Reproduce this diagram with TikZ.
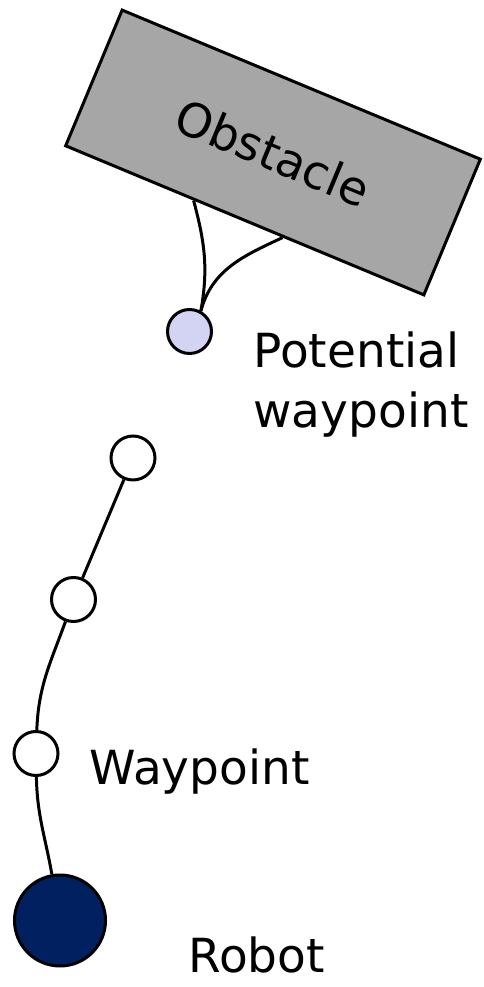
\documentclass[tikz,border=0pt]{standalone}
\usepackage{fontspec}
\setmainfont{DejaVu Sans}
\usetikzlibrary{calc,positioning}
\definecolor{obstaclegray}{HTML}{A6A6A6}
\definecolor{potentialblue}{HTML}{D3D3F3}
\definecolor{robotblue}{HTML}{002060}

\begin{document}
\begin{tikzpicture}[x=1pt,y=1pt,line width=3pt,
   waypoint/.style={circle,draw,fill=white,minimum size=44pt,inner sep=0pt},
   labeltext/.style={font=\fontsize{47}{56}\selectfont,inner sep=0pt,anchor=base west}]
   \useasboundingbox (0,0) rectangle (483,987);
   \node[draw,fill=obstaclegray,rotate=-22.6,minimum width=388pt,minimum height=147pt,
         font=\fontsize{47}{56}\selectfont] (obstacle) at (273,834.5) {Obstacle};
   \node[waypoint,fill=potentialblue] (pw) at (189.5,655.5) {};
   \node[waypoint] (w_1) at (133,529) {};
   \node[waypoint] (w_2) at (73.5,387.5) {};
   \node[waypoint] (w_3) at (36,233.5) {};
   \node[waypoint,fill=robotblue,minimum size=91pt] (robot) at (60,66.5) {};
   \node[labeltext,align=left] (pw_label) at (252,559) {Potential\\[4pt]waypoint};
   \node[labeltext] (w_label) at (88,202) {Waypoint};
   \node[labeltext] (robot_label) at (187,14) {Robot};
   \coordinate (obs_a) at ($(obstacle.south west)!0.36!(obstacle.south east)$);
   \coordinate (obs_b) at ($(obstacle.south west)!0.606!(obstacle.south east)$);
   \path
    (pw.61) edge [out=80,in=-75] (obs_a)
            edge [out=75,in=205] (obs_b)
    (w_1) edge (w_2)
    (w_2) edge [out=250,in=88] (w_3)
    (w_3) edge [out=271,in=100] (robot);
\end{tikzpicture}
\end{document}
